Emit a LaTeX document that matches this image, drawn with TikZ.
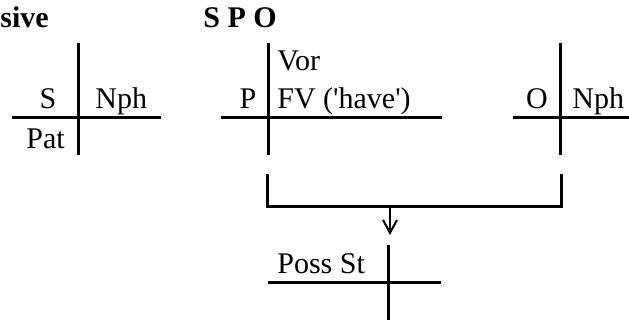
\documentclass[tikz,border=0pt]{standalone}
\usepackage{fontspec}
\setmainfont{Liberation Serif}
\usetikzlibrary{arrows.meta, positioning}

\begin{document}
\begin{tikzpicture}
% Style
[
    x=0.5pt, y=-0.5pt, line cap=butt,
    cross line/.style={line width=1.5pt},
    link line/.style={line width=1pt},
    label text/.style={font=\fontsize{15}{18}\selectfont, inner sep=0pt},
    title text/.style={font=\fontsize{15}{18}\selectfont\bfseries, inner sep=0pt}
]

% Define: cross (name, x, y, left, right, up)
\newcommand{\drawcross}[6]{
    \coordinate (#1) at (#2,#3);
    \coordinate (#1 top) at (#2,#3-#6);
    \coordinate (#1 bot) at (#2,#3+38);
    \draw[cross line] (#2-#4,#3) -- (#2+#5,#3);
    \draw[cross line] (#1 top) -- (#1 bot);
}

%================================== Prepare ==================================
\useasboundingbox (0,0) rectangle (629,323);

%=================================== Start ===================================
{
    % Draw: Titles
    \node[title text, anchor=base west] (passive) at (0,27) {sive};
    \node[title text, anchor=base west] (spo) at (203,27) {S P O};

    % Draw: Crosses
    \drawcross{subj}{79}{117}{67}{82}{74}
    \drawcross{pred}{269}{117}{48}{173}{74}
    \drawcross{obj}{561}{117}{48}{68}{74}
    \drawcross{poss}{389}{282}{121}{52}{37}

    % Draw: Labels
    \node[label text, anchor=base] (s) at (48,108) {S};
    \node[label text, anchor=base west] (snph) at (95,108) {Nph};
    \node[label text, anchor=base west] (pat) at (26,148) {Pat};
    \node[label text, anchor=base] (p) at (248,108) {P};
    \node[label text, anchor=base west] (vor) at (277,70) {Vor};
    \node[label text, anchor=base west] (fv) at (277,108) {FV (\textquotesingle have\textquotesingle)};
    \node[label text, anchor=base] (o) at (537,108) {O};
    \node[label text, anchor=base west] (onph) at (572,108) {Nph};
    \node[label text, anchor=base west] (possst) at (277,273) {Poss St};

    % Draw: Bracket and arrow
    \coordinate (brk left) at (268,174);
    \coordinate (brk right) at (562,174);
    \coordinate (brk mid) at (390,206);
    \coordinate (arr end) at (390,235);
    \draw[cross line] (brk left) |- (brk mid) -| (brk right);
    \draw[link line, -{Straight Barb[length=6.5pt, width=7pt]}] (brk mid) -- (arr end);
}
%==================================== END ====================================

\end{tikzpicture}
\end{document}
